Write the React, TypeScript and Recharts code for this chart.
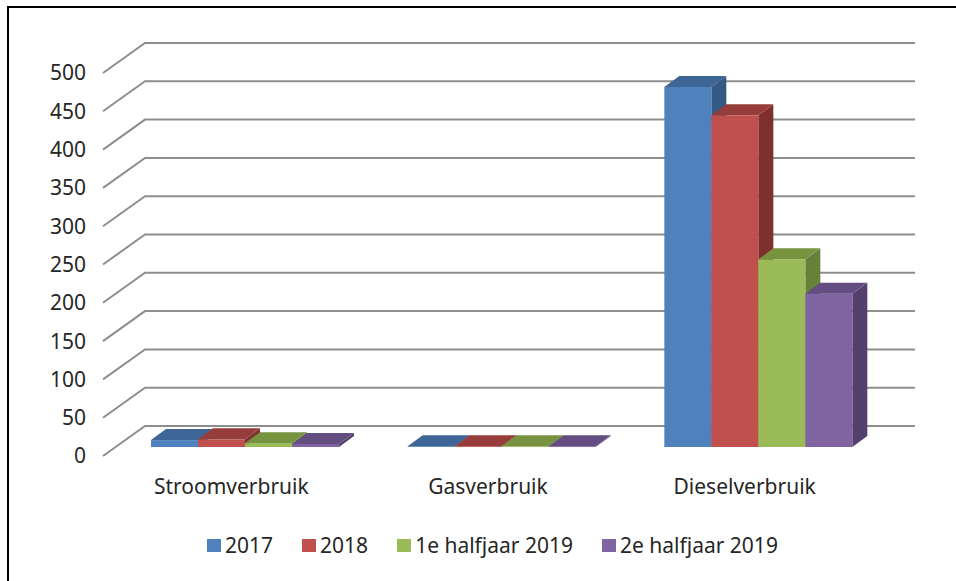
import { BarChart, Bar, XAxis, YAxis, CartesianGrid } from 'recharts'

const CATEGORIES = ['Stroomverbruik', 'Gasverbruik', 'Dieselverbruik']
const SERIES = ['2017', '2018', '1e halfjaar 2019', '2e halfjaar 2019']
const Y_TICKS = [0, 50, 100, 150, 200, 250, 300, 350, 400, 450, 500]

const V2017 = [9, 1, 470]
const V2018 = [10, 1, 433]
const V2019A = [5, 1, 245]
const V2019B = [4, 1, 200]

const VALUES = [V2017, V2018, V2019A, V2019B]

const FRONT = ['#4F81BD', '#C0504D', '#9BBB59', '#8064A2']
const TOP = ['#3D6697', '#963D3B', '#789340', '#634D81']
const SIDE = ['#345984', '#7E302E', '#67803A', '#54406C']

const data = CATEGORIES.map((name, i) => {
  const row: Record<string, string | number> = { name }
  SERIES.forEach((s, j) => {
    row[s] = VALUES[j][i]
  })
  return row
})

// back wall offset and bar offset inside the depth
const WALL_DX = 42
const WALL_DY = -30
const BAR_DX = 13
const BAR_DY = -9
const DEPTH_DX = 15
const DEPTH_DY = -11

function gridLine(props: any) {
  const { x1, x2, y1, index } = props
  const pts = `${x1},${y1} ${x1 + WALL_DX},${y1 + WALL_DY} ${x2 + WALL_DX},${y1 + WALL_DY}`
  return <polyline key={`g-${index}`} points={pts} fill="none" stroke="#8e8e8e" strokeWidth={2} />
}

function makeBox(idx: number) {
  return (props: any) => {
    const { x, y, width, height } = props
    if (x == null || y == null) return <g />
    const fx = x + BAR_DX
    const fy = y + BAR_DY
    const w = width
    const h = Math.max(height, 0.8)
    const top = `${fx},${fy} ${fx + DEPTH_DX},${fy + DEPTH_DY} ${fx + w + DEPTH_DX},${fy + DEPTH_DY} ${fx + w},${fy}`
    const side = `${fx + w},${fy} ${fx + w + DEPTH_DX},${fy + DEPTH_DY} ${fx + w + DEPTH_DX},${fy + DEPTH_DY + h} ${fx + w},${fy + h}`
    return (
      <g>
        <polygon points={side} fill={SIDE[idx]} />
        <rect x={fx} y={fy} width={w} height={h} fill={FRONT[idx]} />
        <polygon points={top} fill={TOP[idx]} />
      </g>
    )
  }
}

export default function App() {
  const font = '"Noto Sans", sans-serif'
  return (
    <div style={{ position: 'fixed', left: 0, top: 0, width: 956, height: 581, background: '#fff', fontFamily: font }}>
      <div style={{ position: 'absolute', left: 7, top: 6, width: 949, height: 2, background: '#000' }} />
      <div style={{ position: 'absolute', left: 7, top: 6, width: 2, height: 575, background: '#000' }} />
      <BarChart
        width={956}
        height={581}
        data={data}
        margin={{ top: 73, right: 83, bottom: 95, left: 0 }}
        barCategoryGap={35}
        barGap={0}
      >
        <CartesianGrid vertical={false} horizontal={gridLine} />
        <XAxis
          dataKey="name"
          axisLine={false}
          tickLine={false}
          tickSize={6}
          tickMargin={17}
          height={30}
          tick={{ fontSize: 21, fill: '#262626', fontFamily: font }}
        />
        <YAxis
          domain={[0, 500]}
          ticks={Y_TICKS}
          interval={0}
          axisLine={false}
          tickLine={false}
          tickSize={6}
          tickMargin={11}
          width={103}
          tick={{ fontSize: 21, fill: '#262626', fontFamily: font }}
        />
        {SERIES.map((s, i) => (
          <Bar key={s} dataKey={s} fill={FRONT[i]} shape={makeBox(i)} isAnimationActive={false} />
        ))}
      </BarChart>
      <div
        style={{
          position: 'absolute',
          left: 207,
          top: 531,
          display: 'flex',
          alignItems: 'center',
          fontSize: 21,
          color: '#262626',
          whiteSpace: 'nowrap',
        }}
      >
        {SERIES.map((s, i) => (
          <div key={s} style={{ display: 'flex', alignItems: 'center', marginRight: 29 }}>
            <span style={{ display: 'inline-block', width: 14, height: 13, background: FRONT[i], marginRight: 4 }} />
            <span>{s}</span>
          </div>
        ))}
      </div>
    </div>
  )
}
